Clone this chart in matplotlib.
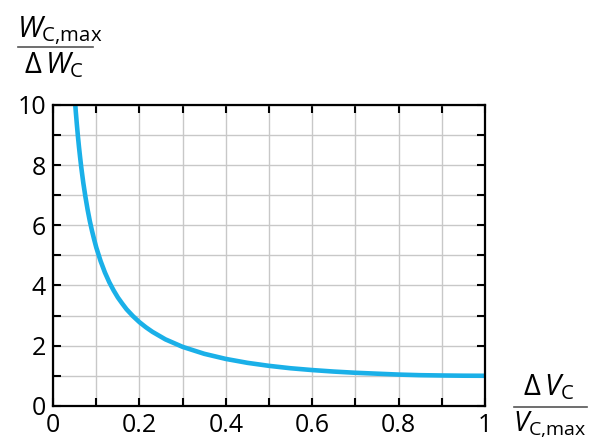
import matplotlib
matplotlib.use("Agg")
import matplotlib.pyplot as plt

# values
dv_ratio = [0.05, 0.0525, 0.055, 0.0575, 0.06, 0.0625, 0.065, 0.0675, 0.07, 0.075, 0.08,
            0.085, 0.09, 0.095, 0.10, 0.11, 0.12, 0.13, 0.14, 0.15, 0.16, 0.17, 0.185,
            0.20, 0.215, 0.23, 0.26, 0.30, 0.35, 0.40, 0.45, 0.50, 0.55, 0.60,
            0.65, 0.70, 0.75, 0.80, 0.85, 0.90, 0.95, 1.00]
w_ratio = [10.26, 9.78, 9.35, 8.95, 8.59, 8.26, 7.95, 7.67, 7.40, 6.93, 6.51,
           6.14, 5.82, 5.53, 5.26, 4.81, 4.43, 4.11, 3.84, 3.60, 3.40, 3.21, 2.98,
           2.78, 2.61, 2.46, 2.21, 1.96, 1.73, 1.56, 1.43, 1.33, 1.25, 1.19,
           1.14, 1.10, 1.07, 1.04, 1.02, 1.01, 1.0025, 1.00]

plt.rcParams["font.family"] = ["Open Sans", "DejaVu Sans"]
plt.rcParams["mathtext.fontset"] = "custom"
plt.rcParams["mathtext.rm"] = "Open Sans"
plt.rcParams["mathtext.it"] = "Open Sans:italic"

fig = plt.figure(figsize=(5.9, 4.48), dpi=100)
ax = fig.add_axes([0.09, 0.094, 0.732, 0.672])
ax.plot(dv_ratio, w_ratio, color="#1ab0e8", lw=3.3, solid_capstyle="butt")
ax.set_xlim(0, 1)
ax.set_ylim(0, 10)
ax.set_xticks([i / 10 for i in range(11)], minor=True)
ax.set_xticks([0, 0.2, 0.4, 0.6, 0.8, 1])
ax.set_xticklabels(["0", "0.2", "0.4", "0.6", "0.8", "1"])
ax.set_yticks(range(11), minor=True)
ax.set_yticks([0, 2, 4, 6, 8, 10])
ax.grid(which="both", color="#c8c8c8", lw=1)
ax.tick_params(which="both", direction="in", top=True, right=True, length=6, width=1.5,
               labelsize=18, pad=5)
for s in ax.spines.values():
    s.set_linewidth(1.6)

# axis label fractions
fig.text(0.028, 0.918, r"$W_{\mathrm{C{,}max}}$", fontsize=21, ha="left", va="baseline")
fig.add_artist(plt.Line2D([0.03, 0.157], [0.895, 0.895], color="#555555", lw=1.2))
fig.text(0.04, 0.837, r"$\Delta\,W_{\mathrm{C}}$", fontsize=21, ha="left", va="baseline")

fig.text(0.886, 0.118, r"$\Delta\,V_{\mathrm{C}}$", fontsize=21, ha="left", va="baseline")
fig.add_artist(plt.Line2D([0.871, 0.995], [0.092, 0.092], color="#555555", lw=1.2))
fig.text(0.869, 0.038, r"$V_{\mathrm{C{,}max}}$", fontsize=20, ha="left", va="baseline")

fig.savefig("out.png", dpi=100)
